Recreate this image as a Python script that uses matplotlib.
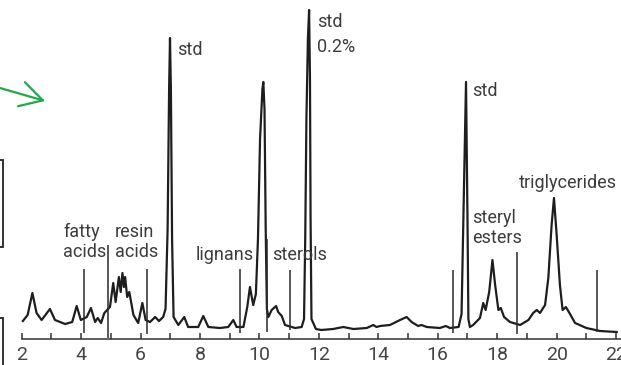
#chromatogram of wood extractives
import numpy as np
import matplotlib.pyplot as plt
from matplotlib.ticker import MultipleLocator
from matplotlib.patches import Rectangle

plt.rcParams['font.family'] = ['Roboto', 'DejaVu Sans']

#retention time in min
t = [2.04, 2.20, 2.36, 2.50, 2.67, 2.95, 3.12, 3.46, 3.70, 3.85, 3.99, 4.19, 4.33, 4.47,
     4.56, 4.67, 4.78, 4.97, 5.08, 5.16, 5.27, 5.33, 5.39, 5.44, 5.48, 5.55, 5.62, 5.76,
     5.92, 6.06, 6.17, 6.32, 6.49, 6.62, 6.76, 6.84, 6.91, 6.96, 6.99, 7.02, 7.06, 7.11,
     7.27, 7.47, 7.60, 7.94, 8.11, 8.28, 8.67, 8.95, 9.12, 9.23, 9.46, 9.59, 9.68, 9.79,
     9.88, 9.95, 10.02, 10.10, 10.13, 10.17, 10.21, 10.25, 10.30, 10.41, 10.56, 10.63,
     10.75, 10.86, 11.20, 11.42, 11.50, 11.54, 11.58, 11.63, 11.67, 11.70, 11.72, 11.75,
     11.90, 12.08, 12.48, 12.82, 13.16, 13.61, 13.83, 13.94, 14.06, 14.39, 14.73, 14.95,
     15.12, 15.34, 15.45, 15.63, 16.07, 16.27, 16.41, 16.70, 16.80, 16.88, 16.95, 17.00,
     17.03, 17.08, 17.19, 17.42, 17.53, 17.61, 17.73, 17.84, 17.93, 18.04, 18.12, 18.23,
     18.43, 18.77, 19.05, 19.21, 19.33, 19.44, 19.61, 19.72, 19.83, 19.91, 20.00, 20.11,
     20.20, 20.31, 20.43, 20.62, 21.00, 21.46, 22.02]
#detector signal (arbitrary units)
signal = [18, 24, 46, 26, 19, 30, 19, 15, 17, 33, 19, 22, 31, 17,
          21, 16, 26, 32, 56, 37, 62, 47, 66, 52, 62, 42, 47, 24,
          16, 36, 19, 17, 22, 18, 22, 30, 110, 250, 301, 250, 100, 22,
          14, 22, 12, 12, 23, 12, 11, 12, 19, 12, 12, 32, 52, 34,
          45, 100, 200, 250, 257, 230, 110, 30, 22, 29, 33, 27,
          23, 14, 11, 12, 20, 100, 220, 300, 329, 260, 120, 20,
          10, 9, 10, 12, 10, 11, 14, 12, 13, 14, 19, 22,
          17, 13, 14, 12, 11, 13, 11, 12, 25, 150, 257, 120,
          20, 12, 14, 21, 36, 29, 47, 79, 54, 29, 31, 22,
          17, 14, 19, 26, 29, 26, 34, 61, 114, 141, 104, 54,
          29, 32, 26, 16, 11, 8, 7]
#marker lines: time, top, bottom
mark_t = [4.11, 4.89, 6.23, 9.35, 10.26, 11.03, 16.52, 18.67, 21.35]
mark_top = [70, 94, 70, 70, 100, 69, 69, 87, 69]
mark_bot = [6, 1, 5, 6, 7, 9, 6, 5, 7]

fig = plt.figure(figsize=(6.21, 3.65), dpi=100)
ax = fig.add_axes([0, 0, 1, 1])
ax.plot(t, signal, color='#1e1e1e', lw=1.6, solid_joinstyle='round')
ax.vlines(mark_t, mark_bot, mark_top, color='#2a2a2a', lw=1.1)

#labels
tc = '#3c3c3c'
fs = 13
for x, y, s in [(7.24, 284, 'std'), (11.93, 312, 'std'), (11.93, 287, '0.2%'),
                (17.14, 243, 'std'), (18.74, 151, 'triglycerides'),
                (17.14, 116, 'steryl'), (17.14, 96, 'esters'),
                (3.39, 102, 'fatty'), (3.39, 82, 'acids'),
                (5.14, 102, 'resin'), (5.14, 82, 'acids'),
                (7.86, 79, 'lignans'), (10.41, 79, 'sterols')]:
    ax.text(x, y, s, fontsize=fs, color=tc, ha='left', va='baseline')

#axes
ax.set_xlim(1.27, 22.165)
ax.set_ylim(-26, 339)
for k in ['left', 'right', 'top']:
    ax.spines[k].set_visible(False)
ax.spines['bottom'].set_position(('data', 0))
ax.spines['bottom'].set_bounds(2, 22.2)
ax.spines['bottom'].set_color('#333333')
ax.spines['bottom'].set_linewidth(1.1)
ax.xaxis.set_major_locator(MultipleLocator(2))
ax.xaxis.set_minor_locator(MultipleLocator(1))
ax.tick_params(axis='x', which='both', direction='in', length=4.5, width=1.1,
               color='#333333', labelsize=14, labelcolor='#444444', pad=5)
ax.set_yticks([])
ax.patch.set_alpha(0)

#leftovers at the image border
ax.annotate('', xy=(45, 264), xytext=(0, 277), xycoords='figure pixels',
            textcoords='figure pixels',
            arrowprops=dict(arrowstyle='->, head_length=0.8, head_width=0.45',
                            color='#22a84a', lw=1.6, mutation_scale=20,
                            shrinkA=0, shrinkB=0))
fig.patches.append(Rectangle((-10, 118), 13.3, 87, transform=None, fill=False,
                             ec='#222222', lw=1.3))
fig.patches.append(Rectangle((-10, -10), 13.3, 57, transform=None, fill=False,
                             ec='#222222', lw=1.3))

fig.savefig('out.png', dpi=100)
